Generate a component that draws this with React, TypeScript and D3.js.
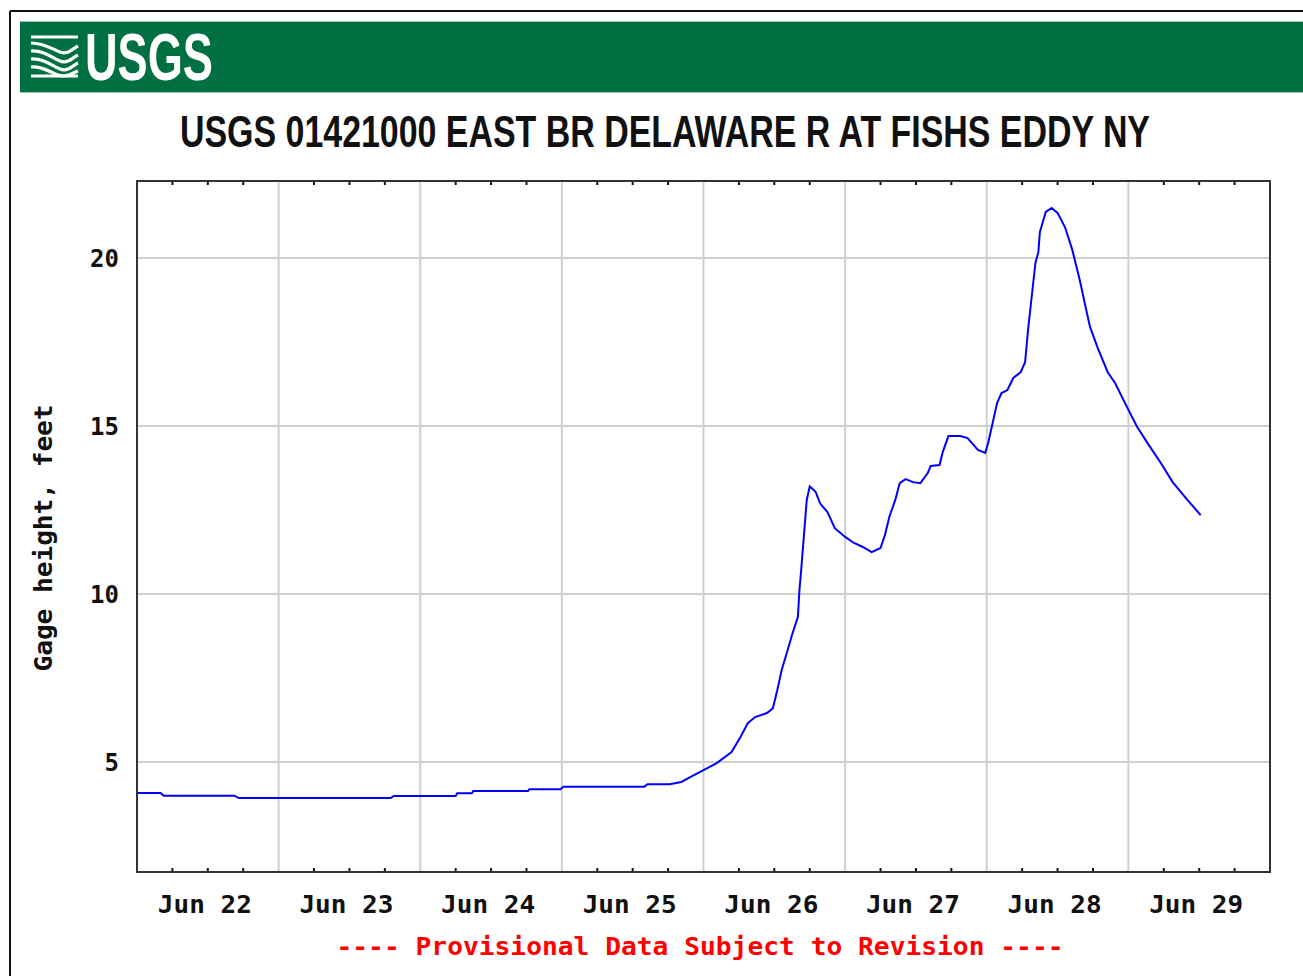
import { useEffect } from 'react'
import * as d3 from 'd3'

// Gage height readings, East Br Delaware R at Fishs Eddy NY, June 2006
const times = [
  '06-22 00:00', '06-22 04:00', '06-22 04:30', '06-22 16:30', '06-22 17:15',
  '06-23 19:00', '06-23 19:30', '06-24 06:00', '06-24 06:15', '06-24 08:45',
  '06-24 09:00', '06-24 18:15', '06-24 18:30', '06-24 23:45', '06-25 00:15',
  '06-25 14:00', '06-25 14:30', '06-25 18:15', '06-25 20:15', '06-25 21:45',
  '06-26 00:00', '06-26 02:15', '06-26 04:45', '06-26 06:15', '06-26 07:30',
  '06-26 08:45', '06-26 10:45', '06-26 11:45', '06-26 12:30', '06-26 13:15',
  '06-26 14:15', '06-26 15:00', '06-26 16:00', '06-26 16:15', '06-26 16:30',
  '06-26 17:00', '06-26 17:30', '06-26 18:00', '06-26 19:00', '06-26 19:45',
  '06-26 21:00', '06-26 22:15', '06-27 00:00', '06-27 01:30', '06-27 03:00',
  '06-27 04:30', '06-27 06:00', '06-27 06:45', '06-27 07:30', '06-27 08:30',
  '06-27 09:15', '06-27 10:15', '06-27 11:30', '06-27 12:45', '06-27 14:00',
  '06-27 14:30', '06-27 16:00', '06-27 16:30', '06-27 17:30', '06-27 19:30',
  '06-27 20:45', '06-27 22:30', '06-27 23:45', '06-28 00:15', '06-28 01:00',
  '06-28 01:45', '06-28 02:30', '06-28 03:30', '06-28 04:30', '06-28 05:45',
  '06-28 06:30', '06-28 07:00', '06-28 07:30', '06-28 08:15', '06-28 08:45',
  '06-28 09:00', '06-28 10:00', '06-28 11:00', '06-28 12:00', '06-28 13:15',
  '06-28 14:30', '06-28 15:45', '06-28 16:45', '06-28 17:30', '06-28 18:45',
  '06-28 20:30', '06-28 21:45', '06-28 23:45', '06-29 01:30', '06-29 03:15',
  '06-29 05:30', '06-29 07:30', '06-29 10:00', '06-29 12:15',
]
const gage = [
  4.08, 4.08, 4.0, 4.0, 3.93,
  3.93, 3.99, 3.99, 4.07, 4.07,
  4.14, 4.14, 4.19, 4.19, 4.27,
  4.27, 4.34, 4.34, 4.41, 4.55,
  4.76, 4.97, 5.3, 5.74, 6.16,
  6.34, 6.46, 6.6, 7.14, 7.74,
  8.33, 8.78, 9.32, 10.1, 10.6,
  11.7, 12.8, 13.2, 13.04, 12.7,
  12.44, 11.96, 11.7, 11.52, 11.4,
  11.25, 11.37, 11.76, 12.3, 12.8,
  13.3, 13.42, 13.33, 13.3, 13.6,
  13.81, 13.84, 14.2, 14.7, 14.7,
  14.64, 14.29, 14.2, 14.5, 15.09,
  15.68, 15.98, 16.07, 16.43, 16.6,
  16.9, 17.86, 18.66, 19.85, 20.18,
  20.77, 21.37, 21.49, 21.34, 20.92,
  20.24, 19.35, 18.54, 17.95, 17.35,
  16.6, 16.28, 15.57, 14.97, 14.49,
  13.9, 13.33, 12.8, 12.35,
]
const yTicks = [5, 10, 15, 20]
const dayLabels = ['Jun 22', 'Jun 23', 'Jun 24', 'Jun 25', 'Jun 26', 'Jun 27', 'Jun 28', 'Jun 29']
const title = 'USGS 01421000 EAST BR DELAWARE R AT FISHS EDDY NY'
const yLabel = 'Gage height, feet'
const footer = '---- Provisional Data Subject to Revision ----'

const parse = d3.timeParse('%Y-%m-%d %H:%M')
const toDate = (s: string) => parse('2006-' + s) as Date

const W = 1303
const H = 976
const plot = { left: 137, right: 1270, top: 181, bottom: 872 }
const mono = '"DejaVu Sans Mono", "Liberation Mono", monospace'
const narrow = '"Liberation Sans Narrow", "Liberation Sans", Arial, sans-serif'

export default function App() {
  useEffect(() => {
    document.body.style.margin = '0'
  }, [])

  const x = d3
    .scaleTime()
    .domain([toDate('06-22 00:00'), toDate('06-30 00:00')])
    .range([plot.left, plot.right])
  const y = d3.scaleLinear().domain([1.73, 22.29]).range([plot.bottom, plot.top])

  const days = x.ticks(d3.timeDay.every(1)!)
  const quarterTicks = x.ticks(d3.timeHour.every(6)!).filter((d) => d.getHours() !== 0)

  const pts = times.map((t, i) => [toDate(t), gage[i]] as [Date, number])
  const line = d3
    .line<[Date, number]>()
    .x((d) => x(d[0]))
    .y((d) => y(d[1]))

  return (
    <svg width={W} height={H} style={{ display: 'block', background: '#fff' }}>
      {/* outer frame */}
      <line x1={10} x2={W} y1={11} y2={11} stroke="#111" strokeWidth={2} />
      <line x1={10} x2={10} y1={11} y2={H} stroke="#111" strokeWidth={2} />

      {/* USGS banner */}
      <rect x={20} y={21} width={W - 20} height={72} fill="#006f41" />
      <line x1={20} x2={W} y1={21.5} y2={21.5} stroke="#9cc9b0" strokeWidth={1} />
      <line x1={20} x2={W} y1={92.5} y2={92.5} stroke="#9cc9b0" strokeWidth={1} />
      <g fill="none" stroke="#fff" strokeWidth={3.2} strokeLinecap="butt">
        <path d="M31,37 L78,37" />
        <path d="M31,43 C44,43 52,49 60,52 C68,55 72,49 78,46" />
        <path d="M31,51 C44,50 52,58 60,61 C68,64 72,58 78,55" />
        <path d="M31,59 C44,58 52,66 60,69 C68,72 72,66 78,63" />
        <path d="M31,67 C42,66 50,72 58,75 C66,78 72,73 78,71" />
        <path d="M31,76 L78,76" />
      </g>
      <text
        x={85}
        y={80}
        fill="#fff"
        fontFamily={narrow}
        fontWeight="bold"
        fontSize={66}
        textLength={128}
        lengthAdjust="spacingAndGlyphs"
      >
        USGS
      </text>

      {/* title */}
      <text
        x={180}
        y={147}
        fill="#111"
        fontFamily={narrow}
        fontWeight="bold"
        fontSize={45}
        textLength={970}
        lengthAdjust="spacingAndGlyphs"
      >
        {title}
      </text>

      {/* grid */}
      <g stroke="#cfcfcf" strokeWidth={2}>
        {yTicks.map((v) => (
          <line key={'gy' + v} x1={plot.left} x2={plot.right} y1={y(v)} y2={y(v)} />
        ))}
        {days.slice(1, -1).map((d) => (
          <line key={'gx' + d.getTime()} x1={x(d)} x2={x(d)} y1={plot.top} y2={plot.bottom} />
        ))}
      </g>

      {/* six-hour ticks */}
      <g stroke="#111" strokeWidth={2}>
        {quarterTicks.map((d) => (
          <g key={'t' + d.getTime()}>
            <line x1={x(d)} x2={x(d)} y1={plot.bottom} y2={plot.bottom - 4} />
            <line x1={x(d)} x2={x(d)} y1={plot.top} y2={plot.top + 4} />
          </g>
        ))}
      </g>

      {/* data */}
      <path d={line(pts) ?? ''} fill="none" stroke="#0000ff" strokeWidth={2} />

      {/* plot frame */}
      <rect
        x={plot.left}
        y={plot.top}
        width={plot.right - plot.left}
        height={plot.bottom - plot.top}
        fill="none"
        stroke="#333"
        strokeWidth={2}
      />

      {/* y tick labels */}
      {yTicks.map((v) => (
        <text
          key={'yl' + v}
          x={119}
          y={y(v) + 9}
          textAnchor="end"
          fontFamily={mono}
          fontWeight="bold"
          fontSize={24}
          fill="#111"
        >
          {v}
        </text>
      ))}

      {/* x day labels, centred at noon */}
      {dayLabels.map((lab, i) => (
        <text
          key={lab}
          x={x(d3.timeHour.offset(days[i], 12)) - 3}
          y={913}
          textAnchor="middle"
          fontFamily={mono}
          fontWeight="bold"
          fontSize={25}
          textLength={94}
          lengthAdjust="spacingAndGlyphs"
          fill="#111"
        >
          {lab}
        </text>
      ))}

      {/* y axis title */}
      <text
        transform="translate(52,538) rotate(-90)"
        textAnchor="middle"
        fontFamily={mono}
        fontWeight="bold"
        fontSize={25}
        textLength={267}
        lengthAdjust="spacingAndGlyphs"
        fill="#111"
      >
        {yLabel}
      </text>

      {/* provisional notice */}
      <text
        x={700}
        y={955}
        textAnchor="middle"
        fontFamily={mono}
        fontWeight="bold"
        fontSize={25}
        textLength={727}
        lengthAdjust="spacingAndGlyphs"
        fill="#ff0000"
      >
        {footer}
      </text>
    </svg>
  )
}
